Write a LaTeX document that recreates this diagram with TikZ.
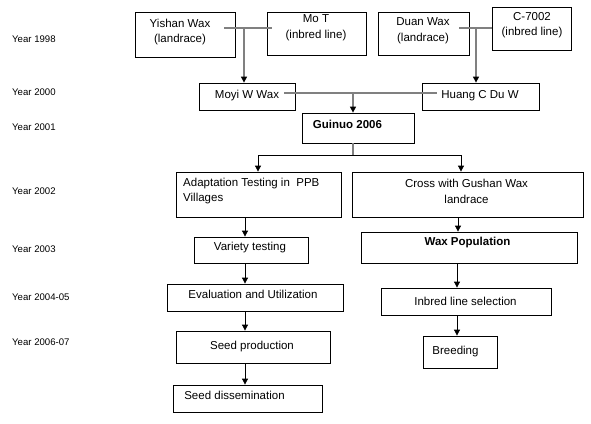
\documentclass[tikz,border=0pt]{standalone}
\usepackage{fontspec}
\setmainfont{Liberation Sans}
\usetikzlibrary{arrows.meta,calc}
\begin{document}
\begin{tikzpicture}[x=1pt,y=-1pt,
  box/.style={draw=black,line width=0.8pt,inner sep=0pt,fill=white},
  txt/.style={font=\fontsize{11.5}{15.5}\selectfont,align=center,inner sep=0pt},
  ltxt/.style={font=\fontsize{11.5}{15.5}\selectfont,align=left,inner sep=0pt},
  yr/.style={font=\fontsize{9.6}{11}\selectfont,anchor=west,inner sep=0pt},
  glink/.style={draw=black!50,line width=1.2pt},
  blink/.style={draw=black,line width=0.8pt},
  garr/.style={glink,-{Triangle[width=6pt,length=6pt,color=black]}},
  barr/.style={blink,-{Triangle[width=6pt,length=6pt,color=black]}}]
\useasboundingbox[fill=white] (0,0) rectangle (591,423);

% year labels
\node[yr] (y98) at (12,39) {Year 1998};
\node[yr] (y00) at (12,92) {Year 2000};
\node[yr] (y01) at (12,127) {Year 2001};
\node[yr] (y02) at (12,191) {Year 2002};
\node[yr] (y03) at (12,249) {Year 2003};
\node[yr] (y04) at (12,297) {Year 2004-05};
\node[yr] (y06) at (12,342) {Year 2006-07};

% boxes
\node[box,minimum width=100,minimum height=45] (yishan) at (185,34.5) {};
\node[txt] (yishanT) at (180,32) {Yishan Wax\\(landrace)};
\node[box,minimum width=99,minimum height=43] (mot) at (316.5,33.5) {};
\node[txt] (motT) at (316,27.5) {Mo T\\(inbred line)};
\node[box,minimum width=91,minimum height=43] (duan) at (423.5,33.5) {};
\node[txt] (duanT) at (423,30.5) {Duan Wax\\(landrace)};
\node[box,minimum width=79,minimum height=43] (c7002) at (531.5,28.5) {};
\node[txt] (c7002T) at (532,25) {C-7002\\(inbred line)};

\node[box,minimum width=96,minimum height=27] (moyi) at (247,96.5) {};
\node[box,minimum width=117,minimum height=27] (huang) at (480.5,96.5) {};

\node[box,minimum width=112,minimum height=30] (guinuo) at (358,128) {};
\node[txt,font=\fontsize{11.5}{15.5}\selectfont\bfseries] (guinuoT) at (347.5,124) {Guinuo 2006};

\node[box,minimum width=165,minimum height=45] (adapt) at (258.5,194.5) {};
\node[ltxt,anchor=west] (adaptT) at (183,191) {Adaptation Testing in \ PPB\\Villages};
\node[box,minimum width=231,minimum height=45] (cross) at (467.5,194.5) {};
\node[txt] (crossT) at (466.5,191.5) {Cross with Gushan Wax\\landrace};

\node[box,minimum width=114,minimum height=26] (variety) at (251,250) {};
\node[txt] (varietyT) at (250,248) {Variety testing};
\node[box,minimum width=216,minimum height=31] (waxpop) at (469,247.5) {};
\node[txt,font=\fontsize{11.5}{15.5}\selectfont\bfseries] (waxpopT) at (467.5,242.5) {Wax Population};

\node[box,minimum width=176,minimum height=27] (eval) at (255,297.5) {};
\node[txt] (evalT) at (253,294) {Evaluation and Utilization};
\node[box,minimum width=170,minimum height=27] (inbred) at (466,301.5) {};
\node[txt] (inbredT) at (465.5,301.5) {Inbred line selection};

\node[box,minimum width=154,minimum height=32] (seedprod) at (253,347) {};
\node[txt] (seedprodT) at (252,347) {Seed production};
\node[box,minimum width=74,minimum height=32] (breeding) at (460,352) {};
\node[txt] (breedingT) at (455.5,352) {Breeding};

\node[box,minimum width=149,minimum height=27] (seeddiss) at (247.5,398.5) {};
\node[txt] (seeddissT) at (234.5,395) {Seed dissemination};

% connector junctions
\coordinate (j1) at (244,28);
\coordinate (j2) at (476,28);
\coordinate (j3) at (353,93);
\coordinate (j4) at (353,155);

\draw[glink] ([xshift=-11pt]yishan.east |- j1) -- ([xshift=5pt]mot.west |- j1);
\draw[garr] (j1) -- (moyi.north -| j1);
\draw[glink] ([xshift=-10pt]duan.east |- j2) -- (c7002.west |- j2);
\draw[garr] (j2) -- (huang.north -| j2);
\draw[glink] ([xshift=-11pt]moyi.east |- j3) -- ([xshift=15pt]huang.west |- j3);
\draw[garr] (j3) -- (guinuo.north -| j3);

\node[txt,fill=none] (moyiT) at (247,96) {Moyi W Wax};
\node[txt,fill=none] (huangT) at (480,96) {Huang C Du W};

\draw[glink] (guinuo.south -| j4) -- (j4);
\draw[blink] (j4) -- (258,155) coordinate (j5);
\draw[blink] (j4) -- (461,155) coordinate (j6);
\draw[barr] (j5) -- (adapt.north -| j5);
\draw[barr] (j6) -- (cross.north -| j6);

\draw[barr] (adapt.south -| 245,0) -- (variety.north -| 245,0);
\draw[barr] (variety.south -| 245,0) -- (eval.north -| 245,0);
\draw[barr] (eval.south -| 245,0) -- (seedprod.north -| 245,0);
\draw[barr] (seedprod.south -| 245,0) -- (seeddiss.north -| 245,0);

\draw[barr] (cross.south -| 458,0) -- (waxpop.north -| 458,0);
\draw[barr] (waxpop.south -| 457,0) -- (inbred.north -| 457,0);
\draw[barr] (inbred.south -| 457,0) -- (breeding.north -| 457,0);
\end{tikzpicture}
\end{document}
